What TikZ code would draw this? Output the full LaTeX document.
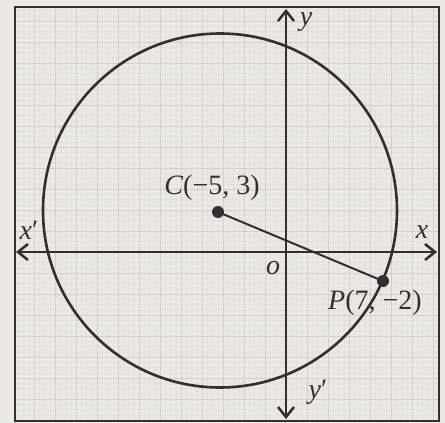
\documentclass[tikz,border=0pt]{standalone}
\usepackage{fontspec}
\setmainfont{Liberation Serif}
\usetikzlibrary{arrows.meta}
\definecolor{paper}{RGB}{236,232,228}
\definecolor{ink}{RGB}{52,46,46}
\definecolor{gridmajor}{RGB}{212,206,204}
\definecolor{gridminor}{RGB}{229,225,222}
\begin{document}
\begin{tikzpicture}[
  x=0.5pt, y=-0.5pt,
  axis/.style={ink, line width=1.25pt, {Straight Barb[length=5pt,width=8pt]}-{Straight Barb[length=5pt,width=8pt]}},
  curve/.style={ink, line width=1.3pt},
  radius line/.style={ink, line width=1pt},
  dot/.style={circle, fill=ink, inner sep=0pt, minimum size=6pt},
  lbl/.style={text=ink, font=\fontsize{14}{16}\selectfont, inner sep=1pt},
  minorline/.style={gridminor, line width=0.25pt},
  majorline/.style={gridmajor, line width=0.5pt}
]
\useasboundingbox (0,0) rectangle (445,423);
\fill[paper] (0,0) rectangle (445,423);
% graph paper
\foreach \k in {-50,...,29} \draw[minorline] (286+5.25*\k,7) -- (286+5.25*\k,421);
\foreach \k in {-46,...,32} \draw[minorline] (15,252+5.25*\k) -- (439,252+5.25*\k);
\foreach \k in {-12,...,7} \draw[majorline] (286+21*\k,7) -- (286+21*\k,421);
\foreach \k in {-11,...,7} \draw[majorline] (15,252+21*\k) -- (439,252+21*\k);
\draw[ink, line width=0.8pt] (15,7) rectangle (439,421);

% axes
\coordinate (xl) at (16,252);
\coordinate (xr) at (437,252);
\coordinate (yt) at (286,9);
\coordinate (yb) at (286,419);
\draw[axis] (xl) -- (xr);
\draw[axis] (yb) -- (yt);

% circle and radius
\node[dot] (C) at (218,212) {};
\node[dot] (P) at (383,281) {};
\draw[curve] (220,210.5) circle[radius=177];
\draw[radius line] (C.center) -- (P.center);

% labels
\node[lbl] (ylab) at (306,22) {\textit{y}};
\node[lbl] (yplab) at (318,392) {\textit{y}′};
\node[lbl] (xlab) at (422,232) {\textit{x}};
\node[lbl] (xplab) at (29,230) {\textit{x}′};
\node[lbl] (olab) at (273,268) {\textit{o}};
\node[lbl] (Clab) at (212,188) {\textit{C}(−5, 3)};
\node[lbl] (Plab) at (375,303) {\textit{P}(7, −2)};
\end{tikzpicture}
\end{document}
